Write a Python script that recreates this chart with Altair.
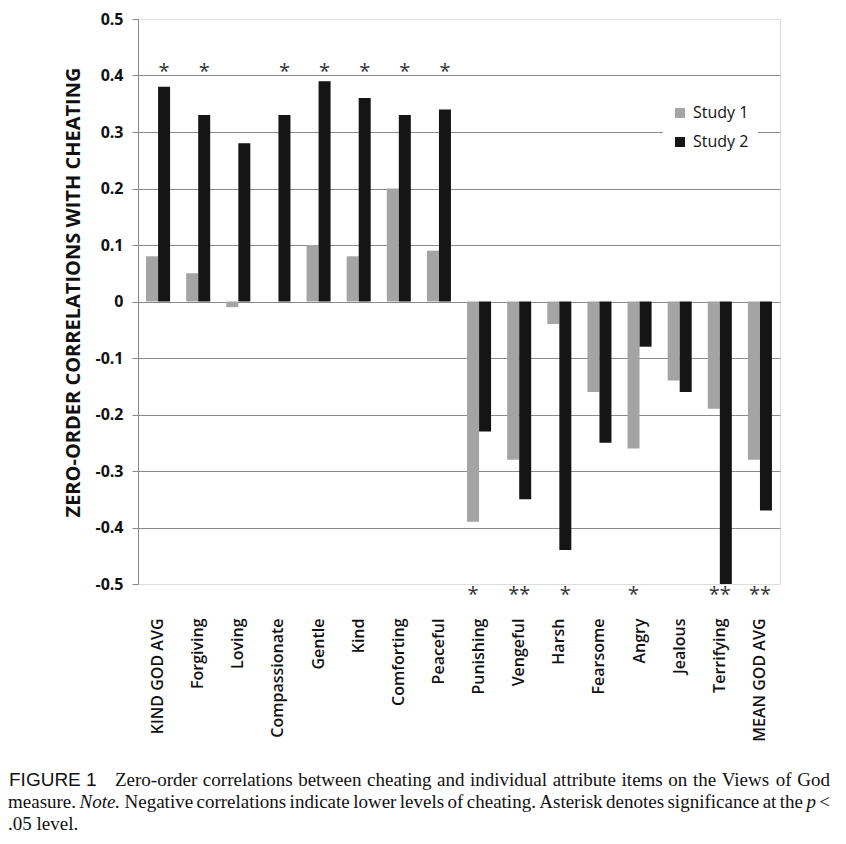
import altair as alt
import pandas as pd

categories = ["KIND GOD AVG", "Forgiving", "Loving", "Compassionate", "Gentle", "Kind",
              "Comforting", "Peaceful", "Punishing", "Vengeful", "Harsh", "Fearsome",
              "Angry", "Jealous", "Terrifying", "MEAN GOD AVG"]
study1 = [0.08, 0.05, -0.01, 0.0, 0.10, 0.08, 0.20, 0.09,
          -0.39, -0.28, -0.04, -0.16, -0.26, -0.14, -0.19, -0.28]
study2 = [0.38, 0.33, 0.28, 0.33, 0.39, 0.36, 0.33, 0.34,
          -0.23, -0.35, -0.44, -0.25, -0.08, -0.16, -0.50, -0.37]
series = ["Study 1", "Study 2"]
y_ticks = [0.5, 0.4, 0.3, 0.2, 0.1, 0.0, -0.1, -0.2, -0.3, -0.4, -0.5]

# significance markers
top_star_cats = ["KIND GOD AVG", "Forgiving", "Compassionate", "Gentle", "Kind", "Comforting", "Peaceful"]
bottom_single_cats = ["Punishing", "Harsh", "Angry"]
bottom_single_series = ["Study 1", "Study 2", "Study 1"]
bottom_double_cats = ["Vengeful", "Terrifying", "MEAN GOD AVG"]

# caption text
caption_label = "FIGURE 1"
caption_line1 = "Zero-order correlations between cheating and individual attribute items on the Views of God"
caption_line2 = "measure. Note. Negative correlations indicate lower levels of cheating. Asterisk denotes significance at the p <"
caption_line3 = ".05 level."
italic_words = ["Note.", "p"]

rows = []
for c, a, b in zip(categories, study1, study2):
    rows.append({"cat": c, "series": "Study 1", "value": a})
    rows.append({"cat": c, "series": "Study 2", "value": b})
df = pd.DataFrame(rows)

stars_single = pd.DataFrame(
    [{"cat": c, "series": "Study 2", "value": 0.413, "t": "*"} for c in top_star_cats]
    + [{"cat": c, "series": s, "value": -0.513, "t": "*"} for c, s in zip(bottom_single_cats, bottom_single_series)]
)
stars_double = pd.DataFrame([{"cat": c, "value": -0.513, "t": "**"} for c in bottom_double_cats])

W, H = 642, 565
FONT = "Open Sans"
SERIF = "Liberation Serif"
CAP_SIZE = 19

# approximate Times advance widths (per 1000 em) used to justify the caption lines
TIMES = {"a": 444, "b": 500, "c": 444, "d": 500, "e": 444, "f": 333, "g": 500, "h": 500, "i": 278,
         "j": 278, "k": 500, "l": 278, "m": 778, "n": 500, "o": 500, "p": 500, "q": 500, "r": 333,
         "s": 389, "t": 278, "u": 500, "v": 500, "w": 722, "x": 500, "y": 500, "z": 444,
         ".": 250, ",": 250, "-": 333, "<": 564, "Z": 611, "V": 722, "G": 722, "N": 722, "A": 722}


def text_w(s, size):
    return sum(TIMES.get(ch, 500) for ch in s) / 1000.0 * size


def justify(line, left, right, size):
    words = line.split(" ")
    total = sum(text_w(w, size) for w in words)
    gap = (right - left - total) / (len(words) - 1)
    out, x = [], left
    for w in words:
        out.append((w, x))
        x += text_w(w, size) + gap
    return out


x_enc = alt.X("cat:N", sort=categories,
              scale=alt.Scale(paddingInner=0.4, paddingOuter=0.2),
              axis=alt.Axis(title=None, labelAngle=-90, labelPadding=34, ticks=False, domain=False,
                            labelFont=FONT, labelFontSize=16, labelColor="#111", labelFontWeight=600))
y_scale = alt.Scale(domain=[-0.5, 0.5], nice=False, zero=False)

bars = alt.Chart(df).mark_bar(size=12).encode(
    x=x_enc,
    xOffset=alt.XOffset("series:N", sort=series, scale=alt.Scale(paddingInner=0, paddingOuter=0)),
    y=alt.Y("value:Q", scale=y_scale,
            axis=alt.Axis(values=y_ticks, title="ZERO-ORDER CORRELATIONS WITH CHEATING",
                          titleFont=FONT, titleFontSize=20, titleFontWeight="bold", titleColor="#111",
                          titlePadding=11, titleY=273,
                          labelFont=FONT, labelFontSize=16, labelFontWeight="bold", labelColor="#111",
                          labelPadding=9, tickSize=6, tickColor="#888", domainColor="#888",
                          gridColor="#8a8a8a", gridWidth=1,
                          gridOpacity=alt.condition("abs(datum.value) > 0.45", alt.value(0), alt.value(1)),
                          labelExpr="datum.value == 0 ? '0' : (datum.value < 0 ? '-' : '') + format(abs(datum.value), '.1f')")),
    y2=alt.datum(0),
    color=alt.Color("series:N", sort=series,
                    scale=alt.Scale(domain=series, range=["#a4a4a4", "#151515"]),
                    legend=alt.Legend(title=None, orient="none", legendX=525, legendY=77,
                                      symbolType="square", symbolSize=100, symbolStrokeWidth=0,
                                      labelFont=FONT, labelFontSize=16, labelColor="#111",
                                      labelOffset=5, rowPadding=13, padding=9, fillColor="white")),
)

star1 = alt.Chart(stars_single).mark_text(font=FONT, fontSize=20, color="#333", baseline="middle", dy=4).encode(
    x=alt.X("cat:N", sort=categories),
    xOffset=alt.XOffset("series:N", sort=series),
    y=alt.Y("value:Q"),
    text="t:N",
)
star2 = alt.Chart(stars_double).mark_text(font=FONT, fontSize=20, color="#333", baseline="middle", dy=4).encode(
    x=alt.X("cat:N", sort=categories),
    y=alt.Y("value:Q"),
    text="t:N",
)

# caption words (pixel layout relative to the plot-area origin at page (138, 19))
OX, OY = 138, 19
cap_rows = []
for w, x in justify(caption_line1, 115, 830, CAP_SIZE):
    cap_rows.append({"t": w, "px": x - OX, "py": 786 - OY})
for w, x in justify(caption_line2, 8, 830, CAP_SIZE):
    cap_rows.append({"t": w, "px": x - OX, "py": 808 - OY})
cap_rows.append({"t": caption_line3, "px": 8 - OX, "py": 830 - OY})
cap_df = pd.DataFrame(cap_rows)
cap_df["it"] = cap_df["t"].isin(italic_words)

cap_regular = alt.Chart(cap_df[~cap_df["it"]]).mark_text(
    font=SERIF, fontSize=CAP_SIZE, align="left", baseline="alphabetic", color="#111"
).encode(x=alt.X("px:Q", scale=None), y=alt.Y("py:Q", scale=None), text="t:N")
cap_italic = alt.Chart(cap_df[cap_df["it"]]).mark_text(
    font=SERIF, fontSize=CAP_SIZE, fontStyle="italic", align="left", baseline="alphabetic", color="#111"
).encode(x=alt.X("px:Q", scale=None), y=alt.Y("py:Q", scale=None), text="t:N")
cap_label = alt.Chart(pd.DataFrame({"t": [caption_label]})).mark_text(
    font="Liberation Sans", fontSize=19, align="left", baseline="alphabetic", color="#111"
).encode(x=alt.value(9 - OX), y=alt.value(786 - OY), text="t:N")

chart = alt.layer(bars, star1, star2, cap_regular, cap_italic, cap_label).resolve_scale(
    xOffset="independent"
).properties(
    width=W, height=H,
    autosize=alt.AutoSizeParams(type="none"),
    padding={"left": 130, "top": 11, "right": 56, "bottom": 250},
).configure_view(stroke=None).configure(background="white")

chart.save("out.html", embed_options={"renderer": "svg", "actions": False})
